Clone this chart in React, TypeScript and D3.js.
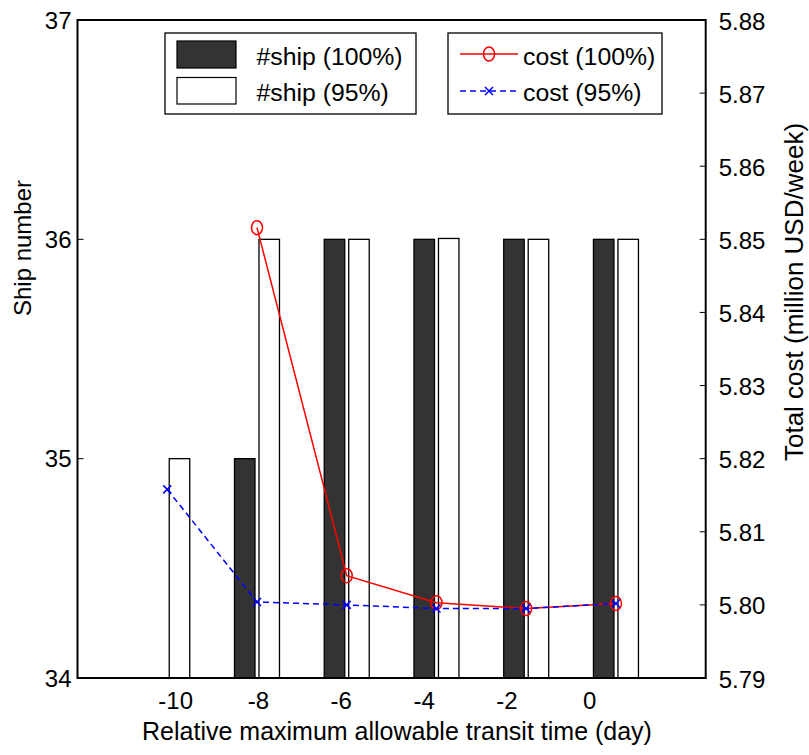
import React, { useRef, useEffect } from 'react';
import * as d3 from 'd3';

// relative maximum allowable transit time (day)
const transitDays = [-10, -8, -6, -4, -2, 0];
// ship numbers (left axis)
const ship100 = [34, 35, 36, 36, 36, 36];
const ship95 = [35, 36, 36, 36.004, 36, 36];
// total cost, million USD/week (right axis); null = no point
const cost100: (number | null)[] = [null, 5.8516, 5.8040, 5.8003, 5.7995, 5.8002];
const cost95 = [5.8158, 5.8004, 5.8000, 5.7995, 5.7995, 5.8002];

const leftTicks = [34, 35, 36, 37];
const rightTicks = [5.79, 5.80, 5.81, 5.82, 5.83, 5.84, 5.85, 5.86, 5.87, 5.88];

const FONT = "'Liberation Sans', Arial, Helvetica, sans-serif";

const App = () => {
  const svgRef = useRef<SVGSVGElement>(null);
  const W = 809;
  const H = 755;
  const plot = { left: 77.5, right: 705.7, top: 20, bottom: 678 };

  useEffect(() => {
    const svg = d3.select(svgRef.current);
    svg.selectAll('*').remove();

    const x = d3.scaleLinear().domain([-12, 2]).range([plot.left, plot.right]);
    // tick labels sit on a slightly different spacing than the bars in the original
    const xLabel = d3.scaleLinear().domain([-12.37, 2.8]).range([plot.left, plot.right]);
    const yL = d3.scaleLinear().domain([34, 37]).range([plot.bottom, plot.top]);
    const yR = d3.scaleLinear().domain([5.79, 5.88]).range([plot.bottom, plot.top]);

    const barW = 20.5;
    const gap = 2;

    // bars: dark = 100%, white = 95%
    const g = svg.append('g');
    transitDays.forEach((d, i) => {
      const c = x(d);
      const h100 = yL(34) - yL(ship100[i]);
      if (h100 > 0) {
        g.append('rect')
          .attr('x', c - gap - barW).attr('y', yL(ship100[i]))
          .attr('width', barW).attr('height', h100)
          .attr('fill', '#333333').attr('stroke', '#000').attr('stroke-width', 1.3);
      }
      const h95 = yL(34) - yL(ship95[i]);
      if (h95 > 0) {
        g.append('rect')
          .attr('x', c + gap).attr('y', yL(ship95[i]))
          .attr('width', barW).attr('height', h95)
          .attr('fill', '#fff').attr('stroke', '#000').attr('stroke-width', 1.3);
      }
    });

    // cost 100% (red, circles)
    const pts100 = transitDays
      .map((d, i) => [d, cost100[i]] as [number, number | null])
      .filter(p => p[1] !== null) as [number, number][];
    const line = d3.line<[number, number]>().x(p => x(p[0])).y(p => yR(p[1]));
    svg.append('path').attr('d', line(pts100)!)
      .attr('fill', 'none').attr('stroke', '#ff0000').attr('stroke-width', 1.5);
    svg.selectAll('.c100').data(pts100).join('ellipse')
      .attr('cx', p => x(p[0])).attr('cy', p => yR(p[1]))
      .attr('rx', 5.5).attr('ry', 7)
      .attr('fill', 'none').attr('stroke', '#ff0000').attr('stroke-width', 1.5);

    // cost 95% (blue dashed, x markers)
    const pts95 = transitDays.map((d, i) => [d, cost95[i]] as [number, number]);
    svg.append('path').attr('d', line(pts95)!)
      .attr('fill', 'none').attr('stroke', '#0000ff').attr('stroke-width', 1.5)
      .attr('stroke-dasharray', '6,4');
    const cross = (cx: number, cy: number, s: number) =>
      `M${cx - s},${cy - s}L${cx + s},${cy + s}M${cx - s},${cy + s}L${cx + s},${cy - s}`;
    pts95.forEach(p => {
      svg.append('path').attr('d', cross(x(p[0]), yR(p[1]), 4))
        .attr('stroke', '#0000ff').attr('stroke-width', 1.5).attr('fill', 'none');
    });

    // frame
    svg.append('rect')
      .attr('x', plot.left).attr('y', plot.top)
      .attr('width', plot.right - plot.left).attr('height', plot.bottom - plot.top)
      .attr('fill', 'none').attr('stroke', '#000').attr('stroke-width', 2);

    // left ticks
    leftTicks.forEach(t => {
      svg.append('line').attr('x1', plot.left).attr('x2', plot.left + 6)
        .attr('y1', yL(t)).attr('y2', yL(t)).attr('stroke', '#000').attr('stroke-width', 1);
      svg.append('text').attr('x', plot.left - 6).attr('y', yL(t))
        .attr('text-anchor', 'end').attr('dominant-baseline', 'central')
        .style('font-family', FONT).style('font-size', '24px').text(t);
    });

    // right ticks
    rightTicks.forEach(t => {
      svg.append('line').attr('x1', plot.right - 6).attr('x2', plot.right)
        .attr('y1', yR(t)).attr('y2', yR(t)).attr('stroke', '#000').attr('stroke-width', 1);
      svg.append('text').attr('x', plot.right + 13).attr('y', yR(t) + 1)
        .attr('text-anchor', 'start').attr('dominant-baseline', 'central')
        .style('font-family', FONT).style('font-size', '24px').text(t.toFixed(2));
    });

    // x tick labels
    transitDays.forEach(d => {
      svg.append('text').attr('x', xLabel(d)).attr('y', 700)
        .attr('text-anchor', 'middle').attr('dominant-baseline', 'central')
        .style('font-family', FONT).style('font-size', '24px').text(d);
    });

    // axis titles
    svg.append('text').attr('x', 397).attr('y', 740)
      .attr('text-anchor', 'middle')
      .style('font-family', FONT).style('font-size', '25px')
      .text('Relative maximum allowable transit time (day)');
    svg.append('text')
      .attr('transform', `translate(31, 248) rotate(-90)`)
      .attr('text-anchor', 'middle')
      .style('font-family', FONT).style('font-size', '24px')
      .text('Ship number');
    svg.append('text')
      .attr('transform', `translate(803, 292) rotate(-90)`)
      .attr('text-anchor', 'middle')
      .style('font-family', FONT).style('font-size', '26px')
      .text('Total cost (million USD/week)');

    // legend: bars
    const lg1 = svg.append('g');
    lg1.append('rect').attr('x', 165).attr('y', 33).attr('width', 251).attr('height', 81)
      .attr('fill', '#fff').attr('stroke', '#000').attr('stroke-width', 1.3);
    lg1.append('rect').attr('x', 177).attr('y', 41).attr('width', 59).attr('height', 27)
      .attr('fill', '#333333').attr('stroke', '#000').attr('stroke-width', 1.2);
    lg1.append('rect').attr('x', 177).attr('y', 77.5).attr('width', 59).attr('height', 26.5)
      .attr('fill', '#fff').attr('stroke', '#000').attr('stroke-width', 1.2);
    lg1.append('text').attr('x', 256.5).attr('y', 64.5)
      .style('font-family', FONT).style('font-size', '24.8px').text('#ship (100%)');
    lg1.append('text').attr('x', 256.5).attr('y', 101)
      .style('font-family', FONT).style('font-size', '24.8px').text('#ship (95%)');

    // legend: lines
    const lg2 = svg.append('g');
    lg2.append('rect').attr('x', 448).attr('y', 33).attr('width', 214).attr('height', 81)
      .attr('fill', '#fff').attr('stroke', '#000').attr('stroke-width', 1.3);
    lg2.append('line').attr('x1', 460).attr('x2', 518).attr('y1', 54).attr('y2', 54)
      .attr('stroke', '#ff0000').attr('stroke-width', 1.5);
    lg2.append('ellipse').attr('cx', 489).attr('cy', 54).attr('rx', 5.5).attr('ry', 7)
      .attr('fill', 'none').attr('stroke', '#ff0000').attr('stroke-width', 1.5);
    lg2.append('line').attr('x1', 460).attr('x2', 518).attr('y1', 91).attr('y2', 91)
      .attr('stroke', '#0000ff').attr('stroke-width', 1.5).attr('stroke-dasharray', '6,4');
    lg2.append('path').attr('d', cross(489, 91, 4))
      .attr('stroke', '#0000ff').attr('stroke-width', 1.5).attr('fill', 'none');
    lg2.append('text').attr('x', 523).attr('y', 64.5)
      .style('font-family', FONT).style('font-size', '24.8px').text('cost (100%)');
    lg2.append('text').attr('x', 523).attr('y', 101)
      .style('font-family', FONT).style('font-size', '24.8px').text('cost (95%)');
  }, []);

  return (
    <svg
      ref={svgRef}
      width={W}
      height={H}
      style={{ position: 'absolute', left: 0, top: 0, background: '#fff' }}
    />
  );
};

export default App;
